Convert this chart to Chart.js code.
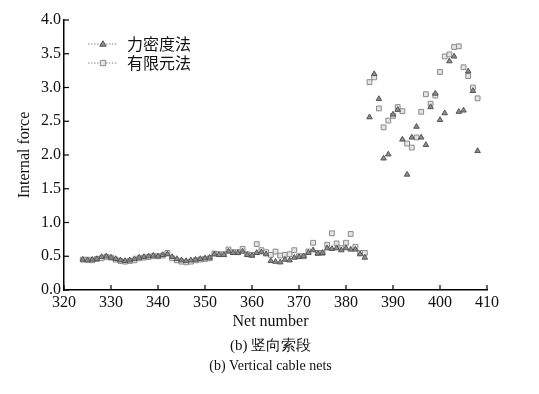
<!DOCTYPE html>
<html>
<head>
<meta charset="utf-8">
<script src="https://cdn.jsdelivr.net/npm/chart.js@4"></script>
<style>
  html, body { margin: 0; padding: 0; background: #fff; }
  canvas { display: block; }
</style>
</head>
<body>
<canvas id="chart" width="539" height="394"></canvas>
<script>
// 索网编号
const netNumbers = [
  324, 325, 326, 327, 328, 329, 330, 331, 332, 333, 334, 335, 336, 337, 338, 339,
  340, 341, 342, 343, 344, 345, 346, 347, 348, 349, 350, 351, 352, 353, 354, 355,
  356, 357, 358, 359, 360, 361, 362, 363, 364, 365, 366, 367, 368, 369, 370, 371,
  372, 373, 374, 375, 376, 377, 378, 379, 380, 381, 382, 383, 384, 385, 386, 387,
  388, 389, 390, 391, 392, 393, 394, 395, 396, 397, 398, 399, 400, 401, 402, 403,
  404, 405, 406, 407, 408
];
// 力密度法
const forceDensity = [
  0.45, 0.44, 0.45, 0.46, 0.49, 0.50, 0.48, 0.46, 0.44, 0.43, 0.44, 0.46, 0.48, 0.49, 0.50, 0.51,
  0.50, 0.52, 0.53, 0.49, 0.46, 0.44, 0.43, 0.44, 0.45, 0.46, 0.47, 0.48, 0.53, 0.52, 0.52, 0.57,
  0.55, 0.55, 0.57, 0.52, 0.51, 0.55, 0.56, 0.53, 0.43, 0.42, 0.41, 0.45, 0.44, 0.48, 0.49, 0.50,
  0.55, 0.59, 0.54, 0.55, 0.62, 0.61, 0.62, 0.59, 0.62, 0.60, 0.60, 0.53, 0.48, 2.56, 3.20, 2.83,
  1.95, 2.01, 2.60, 2.67, 2.23, 1.71, 2.26, 2.42, 2.26, 2.15, 2.71, 2.91, 2.52, 2.62, 3.39, 3.46,
  2.64, 2.66, 3.24, 2.95, 2.06
];
// 有限元法
const finiteElement = [
  0.45, 0.45, 0.44, 0.46, 0.47, 0.49, 0.48, 0.45, 0.43, 0.42, 0.43, 0.44, 0.47, 0.48, 0.49, 0.50,
  0.50, 0.51, 0.55, 0.47, 0.44, 0.42, 0.41, 0.42, 0.44, 0.45, 0.46, 0.47, 0.54, 0.53, 0.53, 0.60,
  0.56, 0.56, 0.61, 0.53, 0.52, 0.68, 0.59, 0.56, 0.52, 0.57, 0.51, 0.52, 0.53, 0.59, 0.50, 0.50,
  0.57, 0.70, 0.55, 0.55, 0.67, 0.84, 0.69, 0.62, 0.70, 0.83, 0.64, 0.55, 0.55, 3.08, 3.15, 2.69,
  2.41, 2.51, 2.58, 2.71, 2.65, 2.17, 2.11, 2.26, 2.64, 2.90, 2.76, 2.88, 3.23, 3.46, 3.49, 3.60,
  3.61, 3.30, 3.17, 3.00, 2.84
];
const seriesNames = ['力密度法', '有限元法'];
const xTicks = [320, 330, 340, 350, 360, 370, 380, 390, 400, 410];
const yTicks = [0, 0.5, 1, 1.5, 2, 2.5, 3, 3.5, 4];

const serif = '"Liberation Serif", "DejaVu Serif", serif';
const cjk = '"Noto Sans CJK SC", sans-serif';

function toPoints(values) {
  return netNumbers.map((n, i) => ({ x: n, y: values[i] }));
}

function drawMarker(ctx, style, x, y, fill, stroke) {
  ctx.save();
  ctx.fillStyle = fill;
  ctx.strokeStyle = stroke;
  ctx.lineWidth = 1;
  ctx.beginPath();
  if (style === 'triangle') {
    ctx.moveTo(x, y - 3.2);
    ctx.lineTo(x + 3.2, y + 2.2);
    ctx.lineTo(x - 3.2, y + 2.2);
    ctx.closePath();
  } else {
    ctx.rect(x - 2.7, y - 2.7, 5.4, 5.4);
  }
  ctx.fill();
  ctx.stroke();
  ctx.restore();
}

// 刻度朝内、图例和文字
const decorations = {
  id: 'decorations',
  afterDraw(chart) {
    const { ctx, chartArea: a, scales } = chart;
    ctx.save();
    ctx.strokeStyle = '#000';
    ctx.lineWidth = 1.2;
    scales.x.ticks.forEach(t => {
      const px = scales.x.getPixelForValue(t.value);
      ctx.beginPath();
      ctx.moveTo(px, a.bottom);
      ctx.lineTo(px, a.bottom - 5);
      ctx.stroke();
    });
    scales.y.ticks.forEach(t => {
      const py = scales.y.getPixelForValue(t.value);
      ctx.beginPath();
      ctx.moveTo(a.left, py);
      ctx.lineTo(a.left + 5, py);
      ctx.stroke();
    });

    // 图例
    chart.data.datasets.forEach((ds, i) => {
      const y = a.top + 24 + i * 19;
      ctx.save();
      ctx.strokeStyle = '#888';
      ctx.lineWidth = 1;
      ctx.setLineDash([1.5, 1.5]);
      ctx.beginPath();
      ctx.moveTo(a.left + 24, y);
      ctx.lineTo(a.left + 54, y);
      ctx.stroke();
      ctx.restore();
      drawMarker(ctx, ds.pointStyle, a.left + 39, y, ds.pointBackgroundColor, ds.pointBorderColor);
      ctx.fillStyle = '#111';
      ctx.font = '16px ' + cjk;
      ctx.textAlign = 'left';
      ctx.textBaseline = 'middle';
      ctx.fillText(ds.label, a.left + 63, y);
    });

    // 坐标轴标题与图名
    const cx = (a.left + a.right) / 2;
    ctx.fillStyle = '#111';
    ctx.textAlign = 'center';
    ctx.textBaseline = 'middle';
    ctx.font = '16px ' + serif;
    ctx.fillText('Net number', cx - 5, 322);
    ctx.font = '15px ' + serif;
    ctx.fillText('(b) 竖向索段', cx - 5, 346);
    ctx.font = '14px ' + serif;
    ctx.fillText('(b) Vertical cable nets', cx - 5, 366);

    ctx.save();
    ctx.translate(25, (a.top + a.bottom) / 2);
    ctx.rotate(-Math.PI / 2);
    ctx.font = '16px ' + serif;
    ctx.fillText('Internal force', 0, 0);
    ctx.restore();
    ctx.restore();
  }
};

new Chart(document.getElementById('chart'), {
  type: 'scatter',
  data: {
    datasets: [
      {
        label: seriesNames[0],
        data: toPoints(forceDensity),
        pointStyle: 'triangle',
        pointRadius: 3.2,
        pointBackgroundColor: '#8c8c8c',
        pointBorderColor: '#555',
        pointBorderWidth: 1,
        showLine: false
      },
      {
        label: seriesNames[1],
        data: toPoints(finiteElement),
        pointStyle: 'rect',
        pointRadius: 3.4,
        pointBackgroundColor: '#e4e4e4',
        pointBorderColor: '#8a8a8a',
        pointBorderWidth: 1,
        showLine: false
      }
    ]
  },
  options: {
    responsive: false,
    animation: false,
    layout: { padding: { top: 20, right: 52, bottom: 0, left: 0 } },
    plugins: { legend: { display: false }, tooltip: { enabled: false } },
    scales: {
      x: {
        type: 'linear',
        min: 320,
        max: 410,
        afterBuildTicks: s => { s.ticks = xTicks.map(v => ({ value: v })); },
        afterFit: s => { s.height = 104; },
        grid: { display: false, drawTicks: false },
        border: { display: true, color: '#000', width: 1.5 },
        ticks: { color: '#111', padding: 3, font: { family: serif, size: 16 } }
      },
      y: {
        min: 0,
        max: 4,
        afterBuildTicks: s => { s.ticks = yTicks.map(v => ({ value: v })); },
        afterFit: s => { s.width = 64; },
        grid: { display: false, drawTicks: false },
        border: { display: true, color: '#000', width: 1.5 },
        ticks: { color: '#111', padding: 3, font: { family: serif, size: 16 }, callback: v => v.toFixed(1) }
      }
    }
  },
  plugins: [decorations]
});
</script>
</body>
</html>
